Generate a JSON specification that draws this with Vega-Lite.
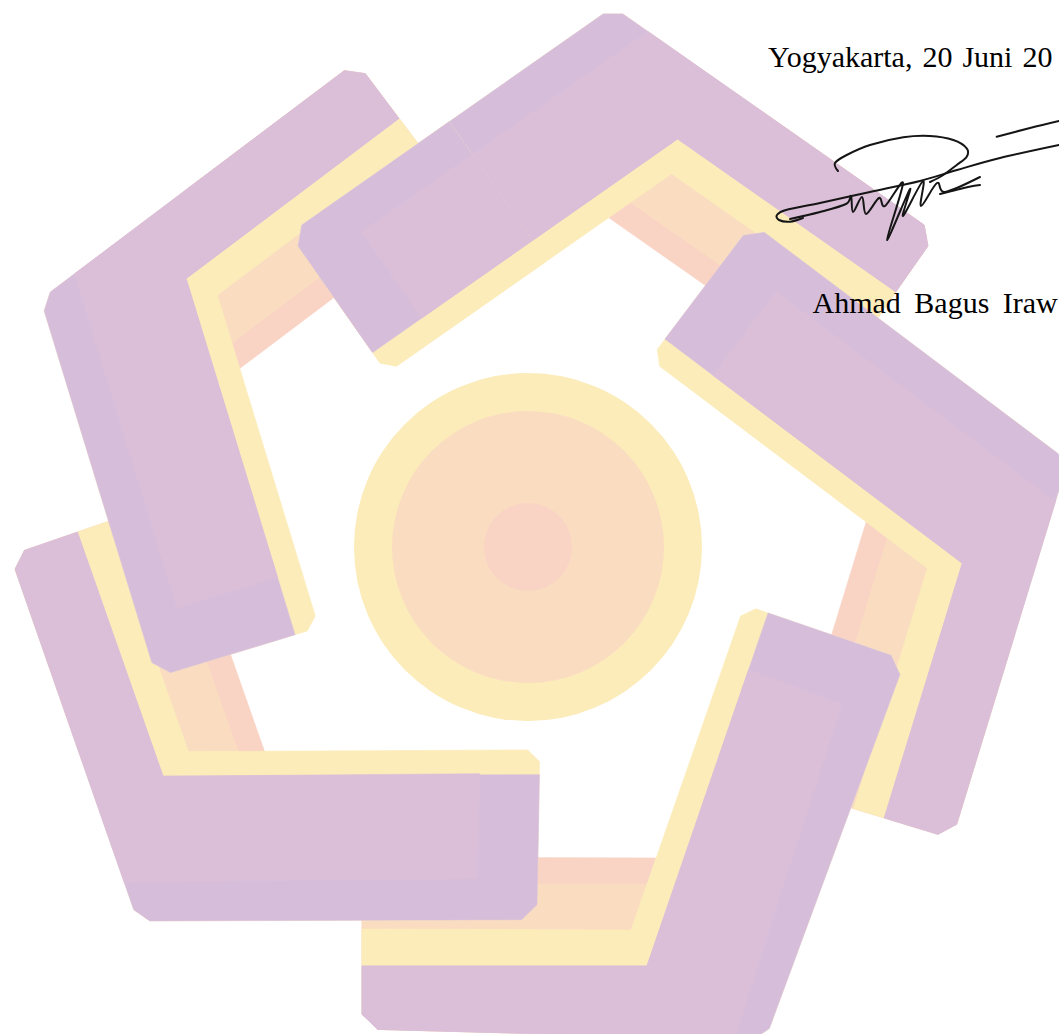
{
  "$schema": "https://vega.github.io/schema/vega-lite/v6.json",
  "width": 1059,
  "height": 1034,
  "autosize": {"type": "fit", "contains": "padding"},
  "padding": 0,
  "background": "white",
  "config": {"view": {"stroke": null}},
  "datasets": {
    "circles": [
      {"i": 0, "part": "yellow", "x": 528, "y": 547, "r": 174},
      {"i": 1, "part": "peach", "x": 528, "y": 547, "r": 136},
      {"i": 2, "part": "pink", "x": 528, "y": 547, "r": 44}
    ],
    "polys": [
      {"s": "01", "part": "pink", "i": 0, "x": 761.3, "y": 110.8},
      {"s": "01", "part": "pink", "i": 1, "x": 924.2, "y": 225.1},
      {"s": "01", "part": "pink", "i": 2, "x": 927.9, "y": 246.0},
      {"s": "01", "part": "pink", "i": 3, "x": 836.2, "y": 377.0},
      {"s": "01", "part": "pink", "i": 4, "x": 608.6, "y": 217.6},
      {"s": "02", "part": "peach", "i": 0, "x": 761.3, "y": 110.8},
      {"s": "02", "part": "peach", "i": 1, "x": 924.2, "y": 225.1},
      {"s": "02", "part": "peach", "i": 2, "x": 927.9, "y": 246.0},
      {"s": "02", "part": "peach", "i": 3, "x": 850.5, "y": 356.6},
      {"s": "02", "part": "peach", "i": 4, "x": 630.5, "y": 202.4},
      {"s": "03", "part": "yellow", "i": 0, "x": 603.2, "y": 13.9},
      {"s": "03", "part": "yellow", "i": 1, "x": 622.8, "y": 13.9},
      {"s": "03", "part": "yellow", "i": 2, "x": 924.2, "y": 225.1},
      {"s": "03", "part": "yellow", "i": 3, "x": 927.9, "y": 246.0},
      {"s": "03", "part": "yellow", "i": 4, "x": 877.5, "y": 318.1},
      {"s": "03", "part": "yellow", "i": 5, "x": 671.6, "y": 173.7},
      {"s": "03", "part": "yellow", "i": 6, "x": 396.7, "y": 366.0},
      {"s": "03", "part": "yellow", "i": 7, "x": 380.0, "y": 363.1},
      {"s": "03", "part": "yellow", "i": 8, "x": 298.1, "y": 246.0},
      {"s": "03", "part": "yellow", "i": 9, "x": 301.8, "y": 225.1},
      {"s": "04", "part": "lilac", "i": 0, "x": 603.2, "y": 13.9},
      {"s": "04", "part": "lilac", "i": 1, "x": 622.8, "y": 13.9},
      {"s": "04", "part": "lilac", "i": 2, "x": 924.2, "y": 225.1},
      {"s": "04", "part": "lilac", "i": 3, "x": 927.9, "y": 246.0},
      {"s": "04", "part": "lilac", "i": 4, "x": 895.8, "y": 291.8},
      {"s": "04", "part": "lilac", "i": 5, "x": 677.6, "y": 138.9},
      {"s": "04", "part": "lilac", "i": 6, "x": 372.6, "y": 352.5},
      {"s": "04", "part": "lilac", "i": 7, "x": 298.1, "y": 246.0},
      {"s": "04", "part": "lilac", "i": 8, "x": 301.8, "y": 225.1},
      {"s": "05", "part": "light", "i": 0, "x": 647.9, "y": 31.4},
      {"s": "05", "part": "light", "i": 1, "x": 924.2, "y": 225.1},
      {"s": "05", "part": "light", "i": 2, "x": 927.9, "y": 246.0},
      {"s": "05", "part": "light", "i": 3, "x": 895.8, "y": 291.8},
      {"s": "05", "part": "light", "i": 4, "x": 677.6, "y": 138.9},
      {"s": "05", "part": "light", "i": 5, "x": 421.7, "y": 318.1},
      {"s": "05", "part": "light", "i": 6, "x": 361.5, "y": 232.1},

      {"s": "06", "part": "pink", "i": 0, "x": 1014.9, "y": 634.1},
      {"s": "06", "part": "pink", "i": 1, "x": 956.6, "y": 824.3},
      {"s": "06", "part": "pink", "i": 2, "x": 937.9, "y": 834.3},
      {"s": "06", "part": "pink", "i": 3, "x": 784.9, "y": 787.6},
      {"s": "06", "part": "pink", "i": 4, "x": 866.2, "y": 521.9},
      {"s": "07", "part": "peach", "i": 0, "x": 1014.9, "y": 634.1},
      {"s": "07", "part": "peach", "i": 1, "x": 956.6, "y": 824.3},
      {"s": "07", "part": "peach", "i": 2, "x": 937.9, "y": 834.3},
      {"s": "07", "part": "peach", "i": 3, "x": 808.7, "y": 794.9},
      {"s": "07", "part": "peach", "i": 4, "x": 887.4, "y": 538.0},
      {"s": "08", "part": "yellow", "i": 0, "x": 1058.2, "y": 453.8},
      {"s": "08", "part": "yellow", "i": 1, "x": 1064.3, "y": 472.5},
      {"s": "08", "part": "yellow", "i": 2, "x": 956.6, "y": 824.3},
      {"s": "08", "part": "yellow", "i": 3, "x": 937.9, "y": 834.3},
      {"s": "08", "part": "yellow", "i": 4, "x": 853.7, "y": 808.6},
      {"s": "08", "part": "yellow", "i": 5, "x": 927.4, "y": 568.2},
      {"s": "08", "part": "yellow", "i": 6, "x": 659.6, "y": 366.2},
      {"s": "08", "part": "yellow", "i": 7, "x": 657.2, "y": 349.4},
      {"s": "08", "part": "yellow", "i": 8, "x": 743.3, "y": 235.4},
      {"s": "08", "part": "yellow", "i": 9, "x": 764.3, "y": 232.4},
      {"s": "09", "part": "lilac", "i": 0, "x": 1058.2, "y": 453.8},
      {"s": "09", "part": "lilac", "i": 1, "x": 1064.3, "y": 472.5},
      {"s": "09", "part": "lilac", "i": 2, "x": 956.6, "y": 824.3},
      {"s": "09", "part": "lilac", "i": 3, "x": 937.9, "y": 834.3},
      {"s": "09", "part": "lilac", "i": 4, "x": 884.3, "y": 817.9},
      {"s": "09", "part": "lilac", "i": 5, "x": 962.3, "y": 563.2},
      {"s": "09", "part": "lilac", "i": 6, "x": 665.0, "y": 339.1},
      {"s": "09", "part": "lilac", "i": 7, "x": 743.3, "y": 235.4},
      {"s": "09", "part": "lilac", "i": 8, "x": 764.3, "y": 232.4},
      {"s": "10", "part": "light", "i": 0, "x": 1055.4, "y": 501.7},
      {"s": "10", "part": "light", "i": 1, "x": 956.6, "y": 824.3},
      {"s": "10", "part": "light", "i": 2, "x": 937.9, "y": 834.3},
      {"s": "10", "part": "light", "i": 3, "x": 884.3, "y": 817.9},
      {"s": "10", "part": "light", "i": 4, "x": 962.3, "y": 563.2},
      {"s": "10", "part": "light", "i": 5, "x": 712.8, "y": 375.2},
      {"s": "10", "part": "light", "i": 6, "x": 776.0, "y": 291.4},

      {"s": "11", "part": "pink", "i": 0, "x": 595.8, "y": 1035.0},
      {"s": "11", "part": "pink", "i": 1, "x": 377.8, "y": 1029.4},
      {"s": "11", "part": "pink", "i": 2, "x": 362.0, "y": 1014.3},
      {"s": "11", "part": "pink", "i": 3, "x": 362.0, "y": 857.0},
      {"s": "11", "part": "pink", "i": 4, "x": 656.0, "y": 858.0},
      {"s": "12", "part": "peach", "i": 0, "x": 595.8, "y": 1035.0},
      {"s": "12", "part": "peach", "i": 1, "x": 377.8, "y": 1029.4},
      {"s": "12", "part": "peach", "i": 2, "x": 362.0, "y": 1014.3},
      {"s": "12", "part": "peach", "i": 3, "x": 362.0, "y": 884.0},
      {"s": "12", "part": "peach", "i": 4, "x": 647.0, "y": 884.0},
      {"s": "13", "part": "yellow", "i": 0, "x": 769.3, "y": 1028.5},
      {"s": "13", "part": "yellow", "i": 1, "x": 752.7, "y": 1039.7},
      {"s": "13", "part": "yellow", "i": 2, "x": 377.8, "y": 1029.4},
      {"s": "13", "part": "yellow", "i": 3, "x": 362.0, "y": 1014.3},
      {"s": "13", "part": "yellow", "i": 4, "x": 362.0, "y": 929.0},
      {"s": "13", "part": "yellow", "i": 5, "x": 631.0, "y": 930.0},
      {"s": "13", "part": "yellow", "i": 6, "x": 740.6, "y": 616.1},
      {"s": "13", "part": "yellow", "i": 7, "x": 755.8, "y": 608.8},
      {"s": "13", "part": "yellow", "i": 8, "x": 891.0, "y": 655.3},
      {"s": "13", "part": "yellow", "i": 9, "x": 899.9, "y": 674.6},
      {"s": "14", "part": "lilac", "i": 0, "x": 769.3, "y": 1028.5},
      {"s": "14", "part": "lilac", "i": 1, "x": 752.7, "y": 1039.7},
      {"s": "14", "part": "lilac", "i": 2, "x": 377.8, "y": 1029.4},
      {"s": "14", "part": "lilac", "i": 3, "x": 362.0, "y": 1014.3},
      {"s": "14", "part": "lilac", "i": 4, "x": 362.0, "y": 966.0},
      {"s": "14", "part": "lilac", "i": 5, "x": 647.0, "y": 966.0},
      {"s": "14", "part": "lilac", "i": 6, "x": 768.1, "y": 613.0},
      {"s": "14", "part": "lilac", "i": 7, "x": 891.0, "y": 655.3},
      {"s": "14", "part": "lilac", "i": 8, "x": 899.9, "y": 674.6},
      {"s": "15", "part": "light", "i": 0, "x": 734.2, "y": 1038.9},
      {"s": "15", "part": "light", "i": 1, "x": 377.8, "y": 1029.4},
      {"s": "15", "part": "light", "i": 2, "x": 362.0, "y": 1014.3},
      {"s": "15", "part": "light", "i": 3, "x": 362.0, "y": 966.0},
      {"s": "15", "part": "light", "i": 4, "x": 647.0, "y": 966.0},
      {"s": "15", "part": "light", "i": 5, "x": 748.6, "y": 669.7},
      {"s": "15", "part": "light", "i": 6, "x": 842.0, "y": 703.9},

      {"s": "16", "part": "pink", "i": 0, "x": 79.4, "y": 753.4},
      {"s": "16", "part": "pink", "i": 1, "x": 15.1, "y": 569.2},
      {"s": "16", "part": "pink", "i": 2, "x": 24.5, "y": 550.4},
      {"s": "16", "part": "pink", "i": 3, "x": 175.7, "y": 498.3},
      {"s": "16", "part": "pink", "i": 4, "x": 265.1, "y": 753.1},
      {"s": "17", "part": "peach", "i": 0, "x": 79.4, "y": 753.4},
      {"s": "17", "part": "peach", "i": 1, "x": 15.1, "y": 569.2},
      {"s": "17", "part": "peach", "i": 2, "x": 24.5, "y": 550.4},
      {"s": "17", "part": "peach", "i": 3, "x": 152.1, "y": 506.4},
      {"s": "17", "part": "peach", "i": 4, "x": 238.5, "y": 752.5},
      {"s": "18", "part": "yellow", "i": 0, "x": 149.8, "y": 920.9},
      {"s": "18", "part": "yellow", "i": 1, "x": 133.8, "y": 909.8},
      {"s": "18", "part": "yellow", "i": 2, "x": 15.1, "y": 569.2},
      {"s": "18", "part": "yellow", "i": 3, "x": 24.5, "y": 550.4},
      {"s": "18", "part": "yellow", "i": 4, "x": 107.7, "y": 521.7},
      {"s": "18", "part": "yellow", "i": 5, "x": 188.3, "y": 751.6},
      {"s": "18", "part": "yellow", "i": 6, "x": 527.7, "y": 749.9},
      {"s": "18", "part": "yellow", "i": 7, "x": 539.6, "y": 761.8},
      {"s": "18", "part": "yellow", "i": 8, "x": 537.0, "y": 904.7},
      {"s": "18", "part": "yellow", "i": 9, "x": 521.5, "y": 919.7},
      {"s": "19", "part": "lilac", "i": 0, "x": 149.8, "y": 920.9},
      {"s": "19", "part": "lilac", "i": 1, "x": 133.8, "y": 909.8},
      {"s": "19", "part": "lilac", "i": 2, "x": 15.1, "y": 569.2},
      {"s": "19", "part": "lilac", "i": 3, "x": 24.5, "y": 550.4},
      {"s": "19", "part": "lilac", "i": 4, "x": 77.4, "y": 532.2},
      {"s": "19", "part": "lilac", "i": 5, "x": 163.0, "y": 776.2},
      {"s": "19", "part": "lilac", "i": 6, "x": 539.4, "y": 774.7},
      {"s": "19", "part": "lilac", "i": 7, "x": 537.0, "y": 904.7},
      {"s": "19", "part": "lilac", "i": 8, "x": 521.5, "y": 919.7},
      {"s": "20", "part": "light", "i": 0, "x": 124.2, "y": 882.1},
      {"s": "20", "part": "light", "i": 1, "x": 15.1, "y": 569.2},
      {"s": "20", "part": "light", "i": 2, "x": 24.5, "y": 550.4},
      {"s": "20", "part": "light", "i": 3, "x": 77.4, "y": 532.2},
      {"s": "20", "part": "light", "i": 4, "x": 163.0, "y": 776.2},
      {"s": "20", "part": "light", "i": 5, "x": 479.4, "y": 773.7},
      {"s": "20", "part": "light", "i": 6, "x": 477.5, "y": 878.7},

      {"s": "21", "part": "pink", "i": 0, "x": 185.3, "y": 190.3},
      {"s": "21", "part": "pink", "i": 1, "x": 344.3, "y": 70.7},
      {"s": "21", "part": "pink", "i": 2, "x": 365.3, "y": 73.7},
      {"s": "21", "part": "pink", "i": 3, "x": 461.6, "y": 201.4},
      {"s": "21", "part": "pink", "i": 4, "x": 239.6, "y": 368.6},
      {"s": "22", "part": "peach", "i": 0, "x": 185.3, "y": 190.3},
      {"s": "22", "part": "peach", "i": 1, "x": 344.3, "y": 70.7},
      {"s": "22", "part": "peach", "i": 2, "x": 365.3, "y": 73.7},
      {"s": "22", "part": "peach", "i": 3, "x": 446.6, "y": 181.5},
      {"s": "22", "part": "peach", "i": 4, "x": 232.0, "y": 343.0},
      {"s": "23", "part": "yellow", "i": 0, "x": 44.2, "y": 310.8},
      {"s": "23", "part": "yellow", "i": 1, "x": 50.3, "y": 292.1},
      {"s": "23", "part": "yellow", "i": 2, "x": 344.3, "y": 70.7},
      {"s": "23", "part": "yellow", "i": 3, "x": 365.3, "y": 73.7},
      {"s": "23", "part": "yellow", "i": 4, "x": 418.3, "y": 143.9},
      {"s": "23", "part": "yellow", "i": 5, "x": 217.4, "y": 295.1},
      {"s": "23", "part": "yellow", "i": 6, "x": 315.3, "y": 615.9},
      {"s": "23", "part": "yellow", "i": 7, "x": 307.3, "y": 630.9},
      {"s": "23", "part": "yellow", "i": 8, "x": 170.6, "y": 672.6},
      {"s": "23", "part": "yellow", "i": 9, "x": 151.9, "y": 662.6},
      {"s": "24", "part": "lilac", "i": 0, "x": 44.2, "y": 310.8},
      {"s": "24", "part": "lilac", "i": 1, "x": 50.3, "y": 292.1},
      {"s": "24", "part": "lilac", "i": 2, "x": 344.3, "y": 70.7},
      {"s": "24", "part": "lilac", "i": 3, "x": 365.3, "y": 73.7},
      {"s": "24", "part": "lilac", "i": 4, "x": 398.9, "y": 118.4},
      {"s": "24", "part": "lilac", "i": 5, "x": 186.1, "y": 278.6},
      {"s": "24", "part": "lilac", "i": 6, "x": 295.0, "y": 634.7},
      {"s": "24", "part": "lilac", "i": 7, "x": 170.6, "y": 672.6},
      {"s": "24", "part": "lilac", "i": 8, "x": 151.9, "y": 662.6},
      {"s": "25", "part": "light", "i": 0, "x": 74.7, "y": 273.7},
      {"s": "25", "part": "light", "i": 1, "x": 344.3, "y": 70.7},
      {"s": "25", "part": "light", "i": 2, "x": 365.3, "y": 73.7},
      {"s": "25", "part": "light", "i": 3, "x": 398.9, "y": 118.4},
      {"s": "25", "part": "light", "i": 4, "x": 186.1, "y": 278.6},
      {"s": "25", "part": "light", "i": 5, "x": 277.5, "y": 577.4},
      {"s": "25", "part": "light", "i": 6, "x": 177.1, "y": 608.0},

      {"s": "26", "part": "yellow", "i": 0, "x": 449.2, "y": 121.8},
      {"s": "26", "part": "yellow", "i": 1, "x": 301.8, "y": 225.1},
      {"s": "26", "part": "yellow", "i": 2, "x": 298.1, "y": 246.0},
      {"s": "26", "part": "yellow", "i": 3, "x": 380.0, "y": 363.1},
      {"s": "26", "part": "yellow", "i": 4, "x": 396.7, "y": 366.0},
      {"s": "26", "part": "yellow", "i": 5, "x": 546.6, "y": 261.0},
      {"s": "27", "part": "lilac", "i": 0, "x": 449.2, "y": 121.8},
      {"s": "27", "part": "lilac", "i": 1, "x": 301.8, "y": 225.1},
      {"s": "27", "part": "lilac", "i": 2, "x": 298.1, "y": 246.0},
      {"s": "27", "part": "lilac", "i": 3, "x": 372.6, "y": 352.5},
      {"s": "27", "part": "lilac", "i": 4, "x": 532.3, "y": 240.6},
      {"s": "28", "part": "light", "i": 0, "x": 472.1, "y": 154.6},
      {"s": "28", "part": "light", "i": 1, "x": 361.5, "y": 232.1},
      {"s": "28", "part": "light", "i": 2, "x": 421.7, "y": 318.1},
      {"s": "28", "part": "light", "i": 3, "x": 532.3, "y": 240.6}
    ],
    "sig": [
      {"stroke": "a", "i": 0, "x": 838, "y": 171},
      {"stroke": "a", "i": 1, "x": 835, "y": 163},
      {"stroke": "a", "i": 2, "x": 846.7, "y": 155},
      {"stroke": "a", "i": 3, "x": 870, "y": 145},
      {"stroke": "a", "i": 4, "x": 903.3, "y": 137.3},
      {"stroke": "a", "i": 5, "x": 930, "y": 136},
      {"stroke": "a", "i": 6, "x": 953.3, "y": 140},
      {"stroke": "a", "i": 7, "x": 966.7, "y": 148.3},
      {"stroke": "a", "i": 8, "x": 966.7, "y": 156.7},
      {"stroke": "a", "i": 9, "x": 956.7, "y": 165},
      {"stroke": "a", "i": 10, "x": 943.3, "y": 175},
      {"stroke": "a", "i": 11, "x": 930, "y": 182},
      {"stroke": "b", "i": 0, "x": 803, "y": 218},
      {"stroke": "b", "i": 1, "x": 790, "y": 221.7},
      {"stroke": "b", "i": 2, "x": 779, "y": 220},
      {"stroke": "b", "i": 3, "x": 777, "y": 215},
      {"stroke": "b", "i": 4, "x": 786, "y": 210},
      {"stroke": "b", "i": 5, "x": 820, "y": 203},
      {"stroke": "b", "i": 6, "x": 870, "y": 192},
      {"stroke": "b", "i": 7, "x": 920, "y": 181},
      {"stroke": "b", "i": 8, "x": 957, "y": 170},
      {"stroke": "b", "i": 9, "x": 1000, "y": 158},
      {"stroke": "b", "i": 10, "x": 1059, "y": 145},
      {"stroke": "c", "i": 0, "x": 996.7, "y": 136.7},
      {"stroke": "c", "i": 1, "x": 1030, "y": 128},
      {"stroke": "c", "i": 2, "x": 1059, "y": 121},
      {"stroke": "d", "i": 0, "x": 790, "y": 219},
      {"stroke": "d", "i": 1, "x": 820, "y": 212},
      {"stroke": "d", "i": 2, "x": 846, "y": 204},
      {"stroke": "d", "i": 3, "x": 851, "y": 196},
      {"stroke": "d", "i": 4, "x": 853, "y": 212},
      {"stroke": "d", "i": 5, "x": 862, "y": 197},
      {"stroke": "d", "i": 6, "x": 866, "y": 214},
      {"stroke": "d", "i": 7, "x": 879, "y": 198},
      {"stroke": "d", "i": 8, "x": 885, "y": 206},
      {"stroke": "d", "i": 9, "x": 903, "y": 183},
      {"stroke": "d", "i": 10, "x": 887, "y": 240},
      {"stroke": "d", "i": 11, "x": 910, "y": 189},
      {"stroke": "d", "i": 12, "x": 903, "y": 216},
      {"stroke": "d", "i": 13, "x": 923, "y": 181},
      {"stroke": "d", "i": 14, "x": 921, "y": 206},
      {"stroke": "d", "i": 15, "x": 937, "y": 183},
      {"stroke": "d", "i": 16, "x": 945, "y": 192},
      {"stroke": "d", "i": 17, "x": 980, "y": 177},
      {"stroke": "e", "i": 0, "x": 940, "y": 194},
      {"stroke": "e", "i": 1, "x": 968, "y": 187},
      {"stroke": "e", "i": 2, "x": 980, "y": 185}
    ],
    "labels": [
      {"x": 768, "y": 67, "label": "Yogyakarta, \u200a20 \u200aJuni \u200a20"},
      {"x": 812.5, "y": 313, "label": "Ahmad \u2009Bagus \u2009Iraw"}
    ]
  },
  "layer": [
    {
      "data": {"name": "circles"},
      "mark": {"type": "point", "shape": "circle", "filled": true, "opacity": 1, "strokeWidth": 0},
      "encoding": {
        "x": {"field": "x", "type": "quantitative", "scale": {"domain": [0, 1059], "nice": false, "zero": false}, "axis": null},
        "y": {"field": "y", "type": "quantitative", "scale": {"domain": [0, 1034], "nice": false, "zero": false, "reverse": true}, "axis": null},
        "size": {"field": "r", "type": "quantitative", "scale": {"type": "pow", "exponent": 2, "domain": [0, 1000], "range": [0, 4000000]}, "legend": null},
        "fill": {"field": "part", "type": "nominal", "scale": {"domain": ["lilac", "light", "yellow", "peach", "pink"], "range": ["#D6BEDB", "#DBBFD8", "#FCECBA", "#FADDC0", "#F9D3C4"]}, "legend": null},
        "order": {"field": "i", "type": "quantitative"}
      }
    },
    {
      "data": {"name": "polys"},
      "mark": {"type": "line", "interpolate": "linear-closed", "strokeWidth": 0.6, "strokeJoin": "round", "clip": true},
      "encoding": {
        "x": {"field": "x", "type": "quantitative", "axis": null},
        "y": {"field": "y", "type": "quantitative", "axis": null},
        "detail": {"field": "s", "type": "nominal"},
        "order": {"field": "i", "type": "quantitative"},
        "fill": {"field": "part", "type": "nominal", "scale": {"domain": ["lilac", "light", "yellow", "peach", "pink"], "range": ["#D6BEDB", "#DBBFD8", "#FCECBA", "#FADDC0", "#F9D3C4"]}, "legend": null},
        "stroke": {"field": "part", "type": "nominal", "scale": {"domain": ["lilac", "light", "yellow", "peach", "pink"], "range": ["#D6BEDB", "#DBBFD8", "#FCECBA", "#FADDC0", "#F9D3C4"]}, "legend": null}
      }
    },
    {
      "data": {"name": "sig"},
      "mark": {"type": "line", "interpolate": "cardinal", "color": "#151515", "strokeWidth": 2, "strokeCap": "round", "strokeJoin": "round", "clip": true},
      "encoding": {
        "x": {"field": "x", "type": "quantitative", "axis": null},
        "y": {"field": "y", "type": "quantitative", "axis": null},
        "detail": {"field": "stroke", "type": "nominal"},
        "order": {"field": "i", "type": "quantitative"}
      }
    },
    {
      "data": {"name": "labels"},
      "mark": {"type": "text", "align": "left", "baseline": "alphabetic", "font": "Liberation Serif", "fontSize": 30, "color": "#000000", "clip": true},
      "encoding": {
        "x": {"field": "x", "type": "quantitative", "axis": null},
        "y": {"field": "y", "type": "quantitative", "axis": null},
        "text": {"field": "label", "type": "nominal"}
      }
    }
  ]
}
